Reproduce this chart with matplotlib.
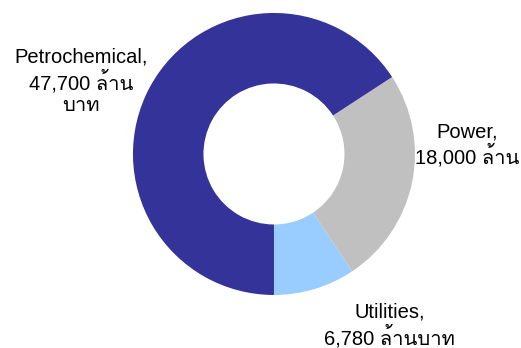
import matplotlib
matplotlib.use("Agg")
import matplotlib.pyplot as plt
from matplotlib import font_manager
from matplotlib.ft2font import FT2Font

# data
sectors = ["Utilities", "Power", "Petrochemical"]
values  = [6780, 18000, 47700]
colors  = ["#99CCFF", "#C0C0C0", "#333399"]
labels  = ["Utilities,\n6,780 ล้านบาท",
           "Power,\n18,000 ล้าน",
           "Petrochemical,\n47,700 ล้าน\nบาท"]

# find a font that has Thai glyphs, to use as fallback
thai_font = None
for f in font_manager.fontManager.ttflist:
    try:
        if 0x0E25 in FT2Font(f.fname).get_charmap():
            thai_font = f.name
            break
    except Exception:
        continue
families = ["Liberation Sans"] + ([thai_font] if thai_font else []) + ["DejaVu Sans"]

fig = plt.figure(figsize=(5.21, 3.48), dpi=100)
ax = fig.add_axes([0, 0, 1, 1])

ax.pie(values, colors=colors, startangle=-90, counterclock=True,
       radius=1.0, wedgeprops=dict(width=0.5, edgecolor="none"))

ax.set_aspect("auto")
ax.set_xlim(-1.943, 1.752)
ax.set_ylim(-1.376, 1.092)
ax.axis("off")

label_pos = [(0.82, -1.215), (1.37, 0.065), (-1.37, 0.515)]
for txt, (x, y) in zip(labels, label_pos):
    ax.text(x, y, txt, ha="center", va="center", fontsize=14.5,
            family=families, linespacing=1.15, color="black")

fig.savefig("out.png", dpi=100)
